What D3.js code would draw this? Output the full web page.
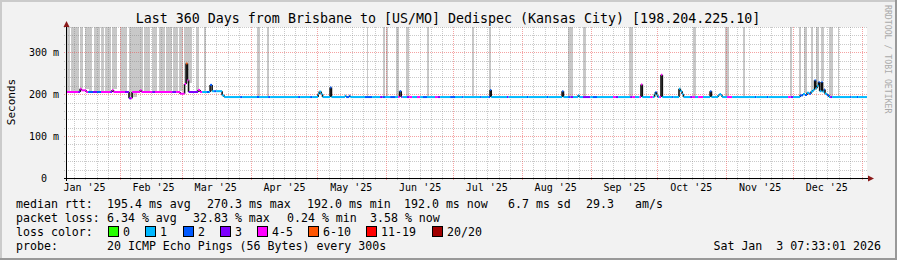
<!DOCTYPE html>
<html>
<head>
<meta charset="utf-8">
<script src="https://cdn.jsdelivr.net/npm/d3@7"></script>
<style>
body { margin: 0; background: #f2f2f2; }
text { font-family: "DejaVu Sans Mono", monospace; fill: #000; }
</style>
</head>
<body>
<script>
// ---- data ----
var endTime = Date.UTC(2026, 0, 3, 7, 33, 1);
var spanDays = 360;
var titleText = "Last 360 Days from Brisbane to [US/MO] Dedispec (Kansas City) [198.204.225.10]";
var monthLabels = ["Jan '25", "Feb '25", "Mar '25", "Apr '25", "May '25", "Jun '25",
    "Jul '25", "Aug '25", "Sep '25", "Oct '25", "Nov '25", "Dec '25"];
var yTicks = [0, 0.1, 0.2, 0.3];
var yTickLabels = ["0  ", "100 m", "200 m", "300 m"];
var lossLabels = ["0", "1", "2", "3", "4-5", "6-10", "11-19", "20/20"];
var lossColors = ["#26ff00", "#00b8ff", "#0059ff", "#7e00ff", "#ff00ff", "#ff5500", "#ff0000", "#a00000"];

// median rtt steps: [day since start, ms, loss bucket]
var medianSteps = [
    [0, 205, 4], [5.0, 205, 3], [5.9, 213, 4], [6.5, 209, 4], [8.6, 205, 4], [9.5, 205, 2],
    [11.7, 205, 3], [13.5, 205, 2], [15.3, 205, 4], [19.4, 205, 3], [20.3, 210, 4], [20.9, 205, 4],
    [26.1, 205, 3], [27.9, 190, 3], [28.8, 190, 4], [29.3, 205, 4], [32.9, 209, 4], [33.5, 205, 4],
    [38.3, 205, 3], [39.6, 205, 4], [47.3, 205, 3], [49.1, 205, 4], [50.9, 201, 4], [52.9, 224, 4],
    [53.6, 273, 5], [54.2, 233, 4], [54.7, 205, 3], [59.0, 210, 4], [59.9, 205, 4], [60.8, 205, 1],
    [63.0, 205, 2], [63.9, 205, 1], [64.4, 222, 2], [65.3, 207, 1], [66.2, 207, 2], [67.1, 207, 1],
    [69.8, 197, 1], [70.7, 193, 1],
    [77.9, 193, 2], [78.8, 193, 1], [85.5, 193, 2], [86.4, 193, 1], [90.5, 193, 2], [91.4, 193, 1],
    [104.0, 193, 2], [104.9, 193, 1], [109.4, 193, 2], [110.3, 193, 1],
    [113.0, 200, 1], [113.5, 206, 1], [114.4, 200, 1], [115.0, 193, 1],
    [118.4, 216, 2], [119.0, 193, 1], [125.1, 196, 1], [125.6, 193, 2], [127.0, 196, 2], [127.5, 193, 1],
    [134.1, 193, 2], [137.3, 193, 1], [140.9, 193, 3], [142.0, 193, 2], [143.1, 193, 1],
    [145.4, 193, 2], [147.6, 193, 1], [149.0, 193, 4], [149.7, 207, 2], [150.4, 193, 3], [151.0, 193, 1],
    [153.0, 193, 3], [154.0, 193, 4], [155.3, 193, 1], [157.5, 193, 4], [158.9, 193, 1],
    [160.2, 193, 2], [162.0, 193, 1], [165.6, 193, 4], [166.7, 193, 3], [167.9, 193, 1],
    [172.4, 193, 2], [174.6, 193, 1], [177.8, 193, 2], [178.4, 193, 1], [185.9, 193, 2], [186.6, 193, 1],
    [189.6, 193, 2], [190.4, 210, 2], [190.9, 193, 1], [198.0, 193, 3], [198.7, 193, 1],
    [207.0, 193, 2], [207.7, 193, 1], [216.0, 193, 2], [216.7, 193, 1], [222.8, 207, 2], [223.4, 193, 1],
    [225.5, 193, 2], [226.5, 193, 3], [227.7, 193, 1], [230.0, 197, 1], [230.5, 193, 1],
    [232.2, 193, 3], [235.4, 193, 1], [236.7, 193, 2], [238.5, 193, 1],
    [245.7, 193, 4], [246.8, 193, 3], [248.0, 193, 1], [253.4, 193, 3], [254.5, 193, 4], [255.6, 193, 1],
    [257.6, 193, 4], [258.3, 223, 4], [258.9, 193, 1], [262.4, 193, 4], [263.6, 193, 1],
    [264.4, 200, 1], [264.8, 205, 2], [265.3, 198, 1], [265.8, 193, 1],
    [266.5, 193, 4], [267.3, 246, 4], [267.9, 193, 1], [272.3, 193, 2], [272.9, 193, 1],
    [275.4, 213, 1], [276.0, 207, 1], [276.8, 200, 1], [277.4, 193, 1],
    [280.4, 193, 3], [281.5, 193, 4], [282.6, 193, 1], [284.0, 193, 4], [286.2, 193, 1],
    [289.4, 207, 2], [290.0, 193, 1], [293.0, 197, 1], [293.6, 200, 1], [294.3, 197, 1], [294.8, 193, 1],
    [297.0, 193, 4], [299.3, 193, 1], [309.6, 193, 2], [310.2, 193, 1], [315.0, 193, 2], [315.6, 193, 1],
    [324.5, 193, 4], [325.6, 193, 3], [326.7, 193, 1],
    [329.9, 197, 2], [331.2, 200, 1], [332.1, 198, 2], [333.0, 203, 1], [333.9, 201, 2], [334.8, 206, 1],
    [335.7, 210, 1], [336.4, 233, 2], [336.9, 214, 1], [337.5, 220, 1], [338.2, 229, 2], [338.7, 207, 1],
    [339.5, 229, 2], [340.0, 206, 1], [340.7, 211, 2], [341.1, 201, 1], [342.0, 197, 2], [342.9, 193, 1],
    [343.4, 193, 3], [344.3, 193, 1], [352.4, 193, 2], [353.0, 193, 1], [355.5, 193, 2], [356.0, 193, 1]
];

// smoke above the median that runs off the top: [from day, to day]
var smokeBars = [
    [0.3, 1.6], [2.0, 3.6], [4.0, 5.6], [6.2, 7.4], [8.3, 9.9], [10.3, 11.6], [12.4, 15.0],
    [15.3, 16.6], [17.4, 20.0], [20.6, 22.8], [24.0, 27.2], [27.9, 31.3], [31.6, 34.4], [34.7, 37.6],
    [38.4, 40.8], [41.4, 44.0], [44.6, 47.5], [47.9, 50.2], [50.6, 52.4], [53.0, 56.4],
    [58.3, 59.6], [61.9, 62.7], [85.5, 86.85], [90.0, 90.9], [135.45, 135.9], [142.2, 143.1],
    [143.55, 144.45], [148.05, 149.4], [153.0, 154.35], [162.0, 162.9], [182.25, 183.15],
    [189.9, 190.8], [225.45, 227.7], [232.2, 233.55], [252.9, 254.7], [281.7, 283.05], [296.1, 297.9],
    [304.65, 305.55], [325.35, 326.25], [329.4, 330.3], [331.65, 333.0], [334.8, 335.7],
    [337.05, 338.4], [339.75, 341.1], [342.9, 344.7], [346.95, 347.4]
];

var rttStats = ["195.4 ms avg", "270.3 ms max", "192.0 ms min", "192.0 ms now", "6.7 ms sd", "29.3", "am/s"];
var lossStats = ["6.34 % avg", "32.83 % max", "0.24 % min", "3.58 % now"];
var probeText = "20 ICMP Echo Pings (56 Bytes) every 300s";
var stampText = "Sat Jan  3 07:33:01 2026";

// ---- drawing ----
var width = 897, height = 260;
var plot = { left: 67, right: 867, top: 27, bottom: 178 };
var startTime = endTime - spanDays * 864e5;
function dayToDate(d) { return new Date(startTime + d * 864e5); }

var svg = d3.select("body").append("svg")
    .attr("width", width).attr("height", height);

svg.append("rect").attr("width", width).attr("height", height).attr("fill", "#f2f2f2");
svg.append("rect").attr("x", 0).attr("y", 0).attr("width", width).attr("height", 2).attr("fill", "#cbcbcb");
svg.append("rect").attr("x", 0).attr("y", 0).attr("width", 2).attr("height", height).attr("fill", "#cbcbcb");
svg.append("rect").attr("x", 0).attr("y", height - 2).attr("width", width).attr("height", 2).attr("fill", "#999");
svg.append("rect").attr("x", width - 2).attr("y", 0).attr("width", 2).attr("height", height).attr("fill", "#999");

var x = d3.scaleUtc().domain([new Date(startTime), new Date(endTime)]).range([plot.left, plot.right]);
var y = d3.scaleLinear().domain([0, 0.36]).range([plot.bottom, plot.top]);

svg.append("rect")
    .attr("x", plot.left).attr("y", plot.top)
    .attr("width", plot.right - plot.left).attr("height", plot.bottom - plot.top)
    .attr("fill", "#fff");

// value of the median at a given day
var stepBisect = d3.bisector(d => d[0]).right;
function medianAt(day) {
    var i = Math.max(0, stepBisect(medianSteps, day) - 1);
    return medianSteps[i][1];
}

// smoke
svg.append("g").selectAll("rect")
    .data(smokeBars)
    .enter().append("rect")
    .attr("x", d => Math.floor(x(dayToDate(d[0]))))
    .attr("width", d => Math.max(1, Math.round(x(dayToDate(d[1])) - x(dayToDate(d[0])))))
    .attr("y", y(0.36))
    .attr("height", d => Math.round(y(medianAt(d[0]) / 1000) - y(0.36) - 1))
    .attr("fill", "#c8c8c8");

// grid
var grid = svg.append("g");
var minorColor = "rgba(128,128,128,0.42)", majorColor = "rgba(235,70,70,0.5)";
d3.range(1, 19).forEach(k => {
    var v = k * 0.02;
    var major = k % 5 === 0;
    var yy = Math.round(y(v)) + 0.5;
    grid.append("line")
        .attr("x1", plot.left - 3).attr("x2", plot.right)
        .attr("y1", yy).attr("y2", yy)
        .attr("stroke", major ? majorColor : minorColor)
        .attr("stroke-dasharray", "1,1");
});
var months = d3.utcMonth.range(d3.utcMonth.floor(new Date(startTime)), new Date(endTime));
months.forEach(m => {
    var next = d3.utcMonth.offset(m, 1);
    for (var k = 1; k < 6; k++) {
        var t = new Date(+m + k * (next - m) / 6);
        if (t < startTime || t > endTime) continue;
        var xx = Math.round(x(t)) + 0.5;
        grid.append("line")
            .attr("x1", xx).attr("x2", xx)
            .attr("y1", plot.top).attr("y2", plot.bottom + 3)
            .attr("stroke", minorColor).attr("stroke-dasharray", "1,1");
    }
});
d3.utcMonth.range(new Date(startTime), new Date(endTime)).forEach(m => {
    var xx = Math.round(x(m)) + 0.5;
    grid.append("line")
        .attr("x1", xx).attr("x2", xx)
        .attr("y1", plot.top).attr("y2", plot.bottom + 3)
        .attr("stroke", majorColor).attr("stroke-dasharray", "1,1");
});

// median line: verticals dark, horizontals coloured by loss
var pts = medianSteps.map(d => ({ t: dayToDate(d[0]), v: d[1] / 1000, c: d[2] }));
pts.push({ t: new Date(endTime), v: pts[pts.length - 1].v, c: pts[pts.length - 1].c });
var med = svg.append("g");
for (var i = 1; i < pts.length - 1; i++) {
    if (pts[i].v === pts[i - 1].v) continue;
    med.append("line")
        .attr("x1", x(pts[i].t)).attr("x2", x(pts[i].t))
        .attr("y1", y(pts[i - 1].v)).attr("y2", y(pts[i].v))
        .attr("stroke", "#111").attr("stroke-width", 1.6);
}
for (var j = 0; j < pts.length - 1; j++) {
    med.append("line")
        .attr("x1", x(pts[j].t)).attr("x2", x(pts[j + 1].t))
        .attr("y1", y(pts[j].v)).attr("y2", y(pts[j].v))
        .attr("stroke", lossColors[pts[j].c]).attr("stroke-width", 2);
}

// axes
var axisColor = "#8b1a1a";
svg.append("line").attr("x1", plot.left - 3).attr("x2", plot.right + 2)
    .attr("y1", plot.bottom + 0.5).attr("y2", plot.bottom + 0.5).attr("stroke", "#000");
svg.append("line").attr("x1", plot.left - 0.5).attr("x2", plot.left - 0.5)
    .attr("y1", plot.bottom + 3).attr("y2", plot.top - 4).attr("stroke", "#000");
svg.append("path").attr("d", "M868,175.5L868,181.5L874,178.5Z").attr("fill", axisColor);
svg.append("path").attr("d", "M63.5,27L69.5,27L66.5,21Z").attr("fill", axisColor);

var labelDays = d3.utcMonth.range(new Date(Date.UTC(2025, 0, 1)), new Date(Date.UTC(2026, 0, 1)))
    .map(m => d3.utcDay.offset(m, 15));
var xAxis = d3.axisBottom(x).tickValues(labelDays)
    .tickFormat((d, i) => monthLabels[i]).tickSize(0).tickPadding(6);
var gx = svg.append("g").attr("transform", "translate(0," + plot.bottom + ")").call(xAxis);
gx.select(".domain").remove();
gx.selectAll("text").style("font-size", "10px").style("font-family", "DejaVu Sans Mono");

var yAxis = d3.axisLeft(y).tickValues(yTicks)
    .tickFormat((d, i) => yTickLabels[i]).tickSize(0).tickPadding(8);
var gy = svg.append("g").attr("transform", "translate(" + plot.left + ",0)").call(yAxis);
gy.select(".domain").remove();
gy.selectAll("text").style("font-size", "10px").style("font-family", "DejaVu Sans Mono")
    .style("white-space", "pre").attr("dy", "0.36em");

// titles
svg.append("text").attr("x", 448).attr("y", 23).attr("text-anchor", "middle")
    .style("font-size", "13.3px").text(titleText);
svg.append("text").attr("transform", "translate(15,102) rotate(-90)")
    .attr("text-anchor", "middle").style("font-size", "11px").text("Seconds");
svg.append("text").attr("transform", "translate(885,5) rotate(90)")
    .style("font-size", "8.2px").style("fill", "#aaa").text("RRDTOOL / TOBI OETIKER");

// legend
var lg = svg.append("g").style("font-size", "11.6px").style("white-space", "pre");
function put(xx, yy, s, anchor) {
    lg.append("text").attr("x", xx).attr("y", yy).attr("text-anchor", anchor || "start")
        .attr("xml:space", "preserve").text(s);
}
put(16, 208, "median rtt:");
[107, 207, 307, 404, 508, 586, 635].forEach((xx, i) => put(xx, 208, rttStats[i]));
put(16, 222, "packet loss:");
[107, 193, 287, 370].forEach((xx, i) => put(xx, 222, lossStats[i]));
put(16, 236, "loss color:");
var boxX = [108, 145, 183, 220, 257, 308, 366, 432];
lossLabels.forEach((l, i) => {
    lg.append("rect").attr("x", boxX[i] + 0.5).attr("y", 226.5).attr("width", 10).attr("height", 10)
        .attr("fill", lossColors[i]).attr("stroke", "#000");
    put(boxX[i] + 15, 236, l);
});
put(16, 250, "probe:");
put(107, 250, probeText);
put(881, 250, stampText, "end");
</script>
</body>
</html>
